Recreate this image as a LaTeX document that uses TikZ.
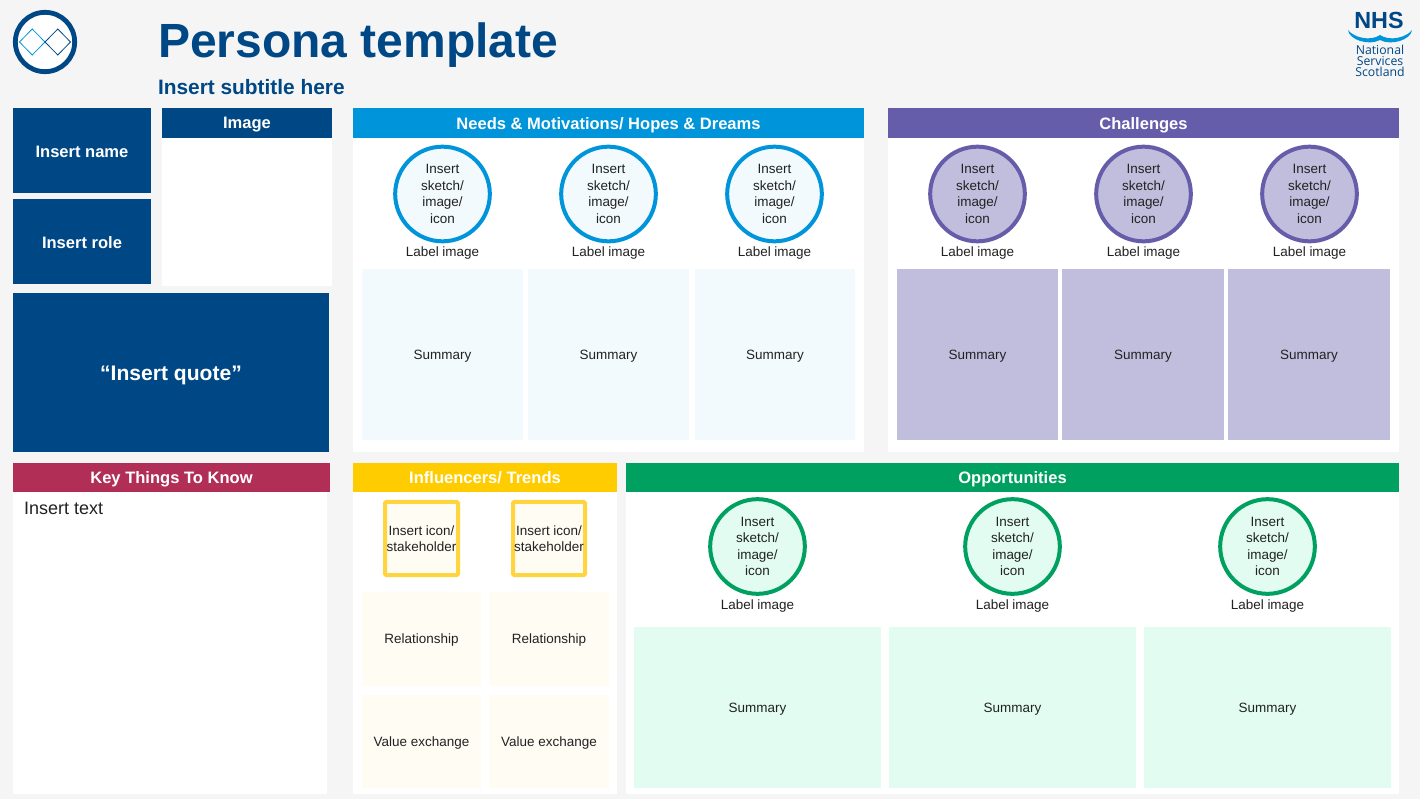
\documentclass[tikz,border=0pt]{standalone}
\usepackage{fontspec}
\setmainfont{Liberation Sans}
\newfontfamily\nhsfont{Open Sans}
\definecolor{navy}{HTML}{004785}
\definecolor{bgc}{HTML}{F5F5F5}
\definecolor{cyanh}{HTML}{0095DA}
\definecolor{cyanl}{HTML}{F2FAFD}
\definecolor{purh}{HTML}{655DAA}
\definecolor{purl}{HTML}{C1BEDD}
\definecolor{redh}{HTML}{B12F56}
\definecolor{yelh}{HTML}{FFCC00}
\definecolor{yell}{HTML}{FFFCF4}
\definecolor{yelb}{HTML}{FFD53F}
\definecolor{grnh}{HTML}{00A160}
\definecolor{grnl}{HTML}{E2FCF1}
\definecolor{txt}{HTML}{222222}
\newcommand{\fs}[1]{\fontsize{#1}{#1}\selectfont}
\newcommand{\bodyfont}{\fontsize{10.1}{12.3}\selectfont}
\tikzset{
  x=0.75pt,y=-0.75pt,
  base/.style={inner sep=0pt,outer sep=0pt,draw=none,align=center,text=txt},
  box/.style={base,font=\bodyfont,text height=7.2pt,text depth=0pt},
  head/.style={base,text=white,font=\fs{12.4}\bfseries,text height=8.9pt,text depth=0pt},
  lowhead/.style={head,text height=9.8pt},
  lbl/.style={box},
  disc/.style={circle,draw=#1,line width=3pt,minimum size=71pt,inner sep=0pt,outer sep=0pt,align=center,text=txt,font=\bodyfont},
  logotext/.style={base,text=navy,font=\nhsfont\fs{9.2}},
}
% \bx{name}{x1}{y1}{x2}{y2}{fill}{style}{text}
\newcommand{\bx}[8]{%
  \pgfmathsetmacro{\bxx}{(#2+#4)/2}\pgfmathsetmacro{\bxy}{(#3+#5)/2}%
  \pgfmathsetmacro{\bxw}{(#4-#2)*0.75}\pgfmathsetmacro{\bxh}{(#5-#3)*0.75}%
  \node[#7,fill=#6,minimum width=\bxw pt,minimum height=\bxh pt] (#1) at (\bxx,\bxy) {#8};}
\newcommand{\disc}[5]{%
  \node[disc=#5,fill=#4] (#1) at (#2,#3) {Insert\\sketch/\\image/\\icon};}
\begin{document}
\begin{tikzpicture}
\useasboundingbox (0,0) rectangle (1420,799);
\fill[bgc] (0,0) rectangle (1420,799);
% logo
\node[circle,draw=navy,fill=white,line width=3.6pt,minimum size=44.5pt,inner sep=0pt] (logo) at (45,42) {};
\draw[cyanh,line width=0.6pt] (19.5,42)--(32.2,29)--(45,42)--(32.2,55)--cycle;
\draw[navy,line width=0.6pt] (45,42)--(57.8,29)--(70.5,42)--(57.8,55)--cycle;
% title
\node[base,anchor=base west,text=navy,font=\fs{36}\bfseries] (title) at (158,58) {Persona template};
\node[base,anchor=base west,text=navy,font=\fs{15.65}\bfseries] (subtitle) at (158,94) {Insert subtitle here};
% NHS
\node[base,text=navy,font=\fs{17.5}\bfseries,text height=11.3pt,text depth=0pt] (nhs) at (1379,20.5) {NHS};
\fill[cyanh] (1348,30) .. controls (1353,37) and (1370,42) .. (1380,35) .. controls (1390,42) and (1407,37) .. (1412,30) .. controls (1411,40) and (1391,46) .. (1380,40) .. controls (1369,46) and (1349,40) .. (1348,30) -- cycle;
\node[logotext] (nhsa) at (1380,50) {National};
\node[logotext] (nhsb) at (1380,61) {Services};
\node[logotext] (nhsc) at (1380,72) {Scotland};
% left column
\bx{name}{13}{108}{151}{193}{navy}{lowhead}{Insert name}
\bx{role}{13}{199}{151}{284}{navy}{lowhead}{Insert role}
\bx{imgbody}{162}{108}{332}{286}{white}{box}{}
\bx{imghead}{162}{108}{332}{138}{navy}{head}{Image}
\bx{quote}{13}{293}{329}{452}{navy}{head,font=\fs{15.8}\bfseries,text height=11.3pt}{“Insert quote”}
% needs
\bx{needsbody}{353}{108}{864}{452}{white}{box}{}
\bx{needshead}{353}{108}{864}{138}{cyanh}{lowhead}{Needs \& Motivations/ Hopes \& Dreams}
\foreach \i/\cx/\a/\b in {1/442.5/362/523,2/608.5/528/689,3/774.5/695/855}{
  \disc{nd\i}{\cx}{194}{cyanl}{cyanh}
  \node[lbl] (nl\i) at (\cx,252) {Label image};
  \bx{ns\i}{\a}{269}{\b}{440}{cyanl}{box}{Summary}
}
% challenges
\bx{chalbody}{888}{108}{1399}{452}{white}{box}{}
\bx{chalhead}{888}{108}{1399}{138}{purh}{lowhead}{Challenges}
\foreach \i/\cx/\a/\b in {1/977.5/897/1058,2/1143.5/1062/1224,3/1309.5/1228/1390}{
  \disc{cd\i}{\cx}{194}{purl}{purh}
  \node[lbl] (cl\i) at (\cx,252) {Label image};
  \bx{cs\i}{\a}{269}{\b}{440}{purl}{box}{Summary}
}
% key things
\bx{keybody}{13}{463}{327}{794}{white}{box}{}
\bx{keyhead}{13}{463}{330}{492}{redh}{head}{Key Things To Know}
\node[base,anchor=base west,font=\fs{13.5}] (keytext) at (24,514) {Insert text};
% influencers
\bx{infbody}{353}{463}{617}{794}{white}{box}{}
\bx{infhead}{353}{463}{617}{492}{yelh}{head}{Influencers/ Trends}
\foreach \i/\a/\b/\cx in {1/385/458/421.5,2/513/585/549}{
  \pgfmathsetmacro{\icw}{(\b-\a)*0.75}
  \node[base,draw=yelb,line width=3pt,rounded corners=1pt,fill=yell,minimum width=\icw pt,minimum height=55pt,font=\bodyfont] (ic\i) at (\cx,538.5) {Insert icon/\\stakeholder};
}
\bx{rel1}{362}{592}{481}{686}{yell}{box}{Relationship}
\bx{rel2}{489}{592}{609}{686}{yell}{box}{Relationship}
\bx{val1}{362}{695}{481}{788}{yell}{box}{Value exchange}
\bx{val2}{489}{695}{609}{788}{yell}{box}{Value exchange}
% opportunities
\bx{oppbody}{626}{463}{1399}{794}{white}{box}{}
\bx{opphead}{626}{463}{1399}{492}{grnh}{head}{Opportunities}
\foreach \i/\cx/\a/\b in {1/757.5/634/881,2/1012.5/889/1136,3/1267.5/1144/1391}{
  \disc{od\i}{\cx}{546.5}{grnl}{grnh}
  \node[lbl] (ol\i) at (\cx,605) {Label image};
  \bx{os\i}{\a}{627}{\b}{788}{grnl}{box}{Summary}
}
\end{tikzpicture}
\end{document}
